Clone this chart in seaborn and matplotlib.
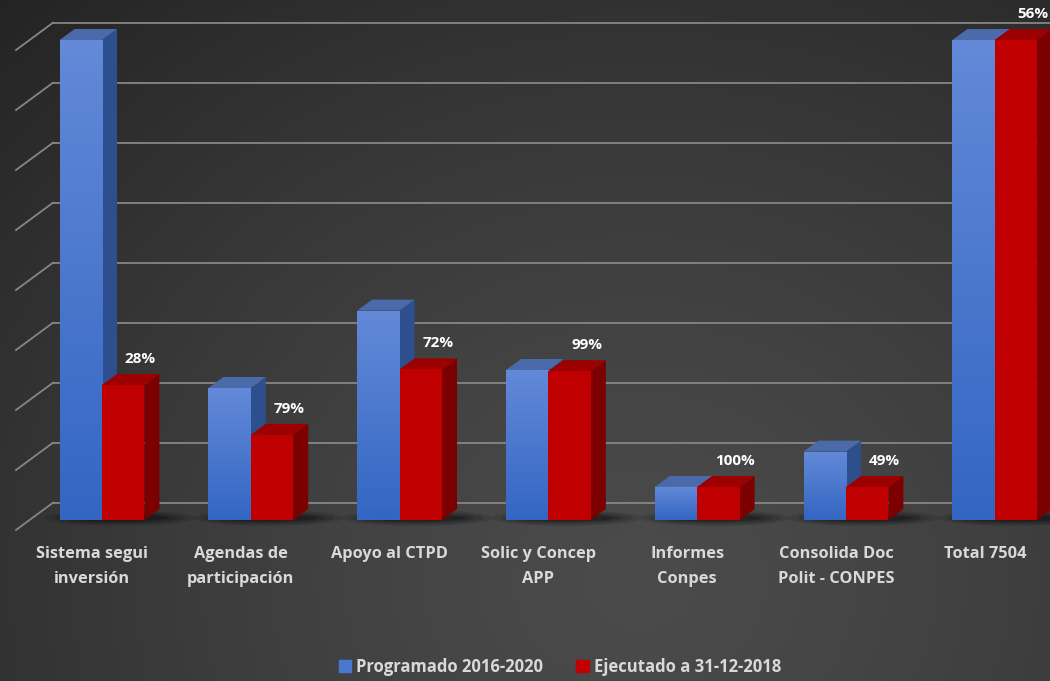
import numpy as np
import pandas as pd
import seaborn as sns
import matplotlib.pyplot as plt
from matplotlib import transforms
from matplotlib.patches import Polygon, Ellipse
from matplotlib.colors import LinearSegmentedColormap

categorias = ["Sistema segui\ninversión", "Agendas de\nparticipación", "Apoyo al CTPD",
              "Solic y Concep\nAPP", "Informes\nConpes", "Consolida Doc\nPolit - CONPES",
              "Total 7504"]
programado = [800, 220, 349, 250, 55, 114, 800]
ejecutado = [225, 142, 251, 248, 55, 55, 800]
porcentajes = ["28%", "79%", "72%", "99%", "100%", "49%", "56%"]
series = ["Programado 2016-2020", "Ejecutado a 31-12-2018"]

azul = "#4a78cf"
rojo = "#c00000"
azul_lado, azul_tapa = "#2e4f8e", "#4a6aaa"
rojo_lado, rojo_tapa = "#7c0000", "#9c0000"
texto = "#d9d9d9"
fuente = ["Open Sans", "DejaVu Sans"]

df = pd.DataFrame({
    "cat": categorias * 2,
    "valor": programado + ejecutado,
    "serie": [series[0]] * len(categorias) + [series[1]] * len(categorias),
})

W, H, DPI = 10.5, 6.81, 100
fig = plt.figure(figsize=(W, H), dpi=DPI)

# fondo con degradado radial
bg = fig.add_axes([0, 0, 1, 1], zorder=-5)
yy, xx = np.mgrid[0:681, 0:1050]
r = np.sqrt((xx - 640) ** 2 + ((yy - 580) * 1.15) ** 2)
g = np.clip(0x4b - (0x4b - 0x25) * (r / 900) ** 1.3, 0x22, 0x4b) / 255
bg.imshow(np.dstack([g, g, g]), extent=[0, 1, 0, 1], aspect="auto")
bg.axis("off")

ax = fig.add_axes([0, (681 - 535) / 681, 1, 535 / 681])
ax.set_facecolor("none")

sns.barplot(data=df, x="cat", y="valor", hue="serie", palette=[azul, rojo],
            width=0.57, saturation=1, legend=False, ax=ax)

ax.set_xlim(-102 / 148.8, (1050 - 102) / 148.8)
ax.set_ylim(-25, 866.7)
for s in ax.spines.values():
    s.set_visible(False)
ax.set_yticks([])
ax.set_xlabel("")
ax.set_ylabel("")

ppx = ax.bbox.width / (ax.get_xlim()[1] - ax.get_xlim()[0])
ppy = ax.bbox.height / (ax.get_ylim()[1] - ax.get_ylim()[0])
dx = 15 / ppx
dy = 11 / ppy

ax.tick_params(axis="x", length=0, pad=8)
ax.set_xticks([i - 10 / ppx for i in range(len(categorias))])
ax.set_xticklabels(categorias, color=texto, fontsize=11.8, fontweight="bold",
                   family=fuente, linespacing=1.75)

# cuadricula con perspectiva
mix = transforms.blended_transform_factory(ax.transAxes, ax.transData)
for k in range(0, 900, 100):
    yb = k + 17.3 / ppy
    yf = k - 10 / ppy
    ax.plot([53 / 1050, 1], [yb, yb], color="#868686", lw=1.3, transform=mix, zorder=0.5)
    ax.plot([16 / 1050, 53 / 1050], [yf, yb], color="#868686", lw=1.3, transform=mix, zorder=0.5)

# sombras en la base
for i in range(len(categorias)):
    for j, a in enumerate([0.10, 0.12, 0.16, 0.22]):
        ax.add_patch(Ellipse((i + 0.12, 2 / ppy), (150 - j * 18) / ppx, (16 - j * 3) / ppy,
                             color="black", alpha=a, lw=0, zorder=1))

grad = LinearSegmentedColormap.from_list("az", ["#3366c3", "#6389d8"])
caras = [(azul_lado, azul_tapa, 2.0), (rojo_lado, rojo_tapa, 2.4)]
for cont, (c_lado, c_tapa, z) in zip(ax.containers, caras):
    for p in cont.patches:
        x0, w, h = p.get_x(), p.get_width(), p.get_height()
        x1 = x0 + w
        ax.add_patch(Polygon([(x1, 0), (x1 + dx, dy), (x1 + dx, h + dy), (x1, h)],
                             closed=True, color=c_lado, lw=0, zorder=z))
        ax.add_patch(Polygon([(x0, h), (x0 + dx, h + dy), (x1 + dx, h + dy), (x1, h)],
                             closed=True, color=c_tapa, lw=0, zorder=z))
        p.set_zorder(z + 0.1)
        p.set_linewidth(0)

# degradado de las barras azules
for p in ax.containers[0].patches:
    x0, w, h = p.get_x(), p.get_width(), p.get_height()
    im = ax.imshow(np.linspace(0, 1, 100).reshape(-1, 1), cmap=grad, origin="lower",
                   extent=[x0, x0 + w, 0, h], aspect="auto", zorder=2.15)
    im.set_clip_path(p)
ax.set_xlim(-102 / 148.8, (1050 - 102) / 148.8)
ax.set_ylim(-25, 866.7)

# etiquetas de porcentaje
for p, t in zip(ax.containers[1].patches, porcentajes):
    ax.annotate(t, (p.get_x() + p.get_width() / 2, p.get_height()),
                xytext=(17, 26), textcoords="offset pixels", ha="center", va="center",
                color="white", fontsize=11, fontweight="bold", family=fuente,
                zorder=5, annotation_clip=False)

handles = [plt.Rectangle((0, 0), 1, 1, color=c) for c in [azul, rojo]]
fig.legend(handles, series, loc="center", bbox_to_anchor=(560 / 1050, 1 - 667 / 681),
           ncol=2, frameon=False, handlelength=0.75, handleheight=0.75, handletextpad=0.3,
           columnspacing=2.0, prop={"family": fuente, "weight": "bold", "size": 12},
           labelcolor=texto)

fig.savefig("out.png", dpi=DPI)
